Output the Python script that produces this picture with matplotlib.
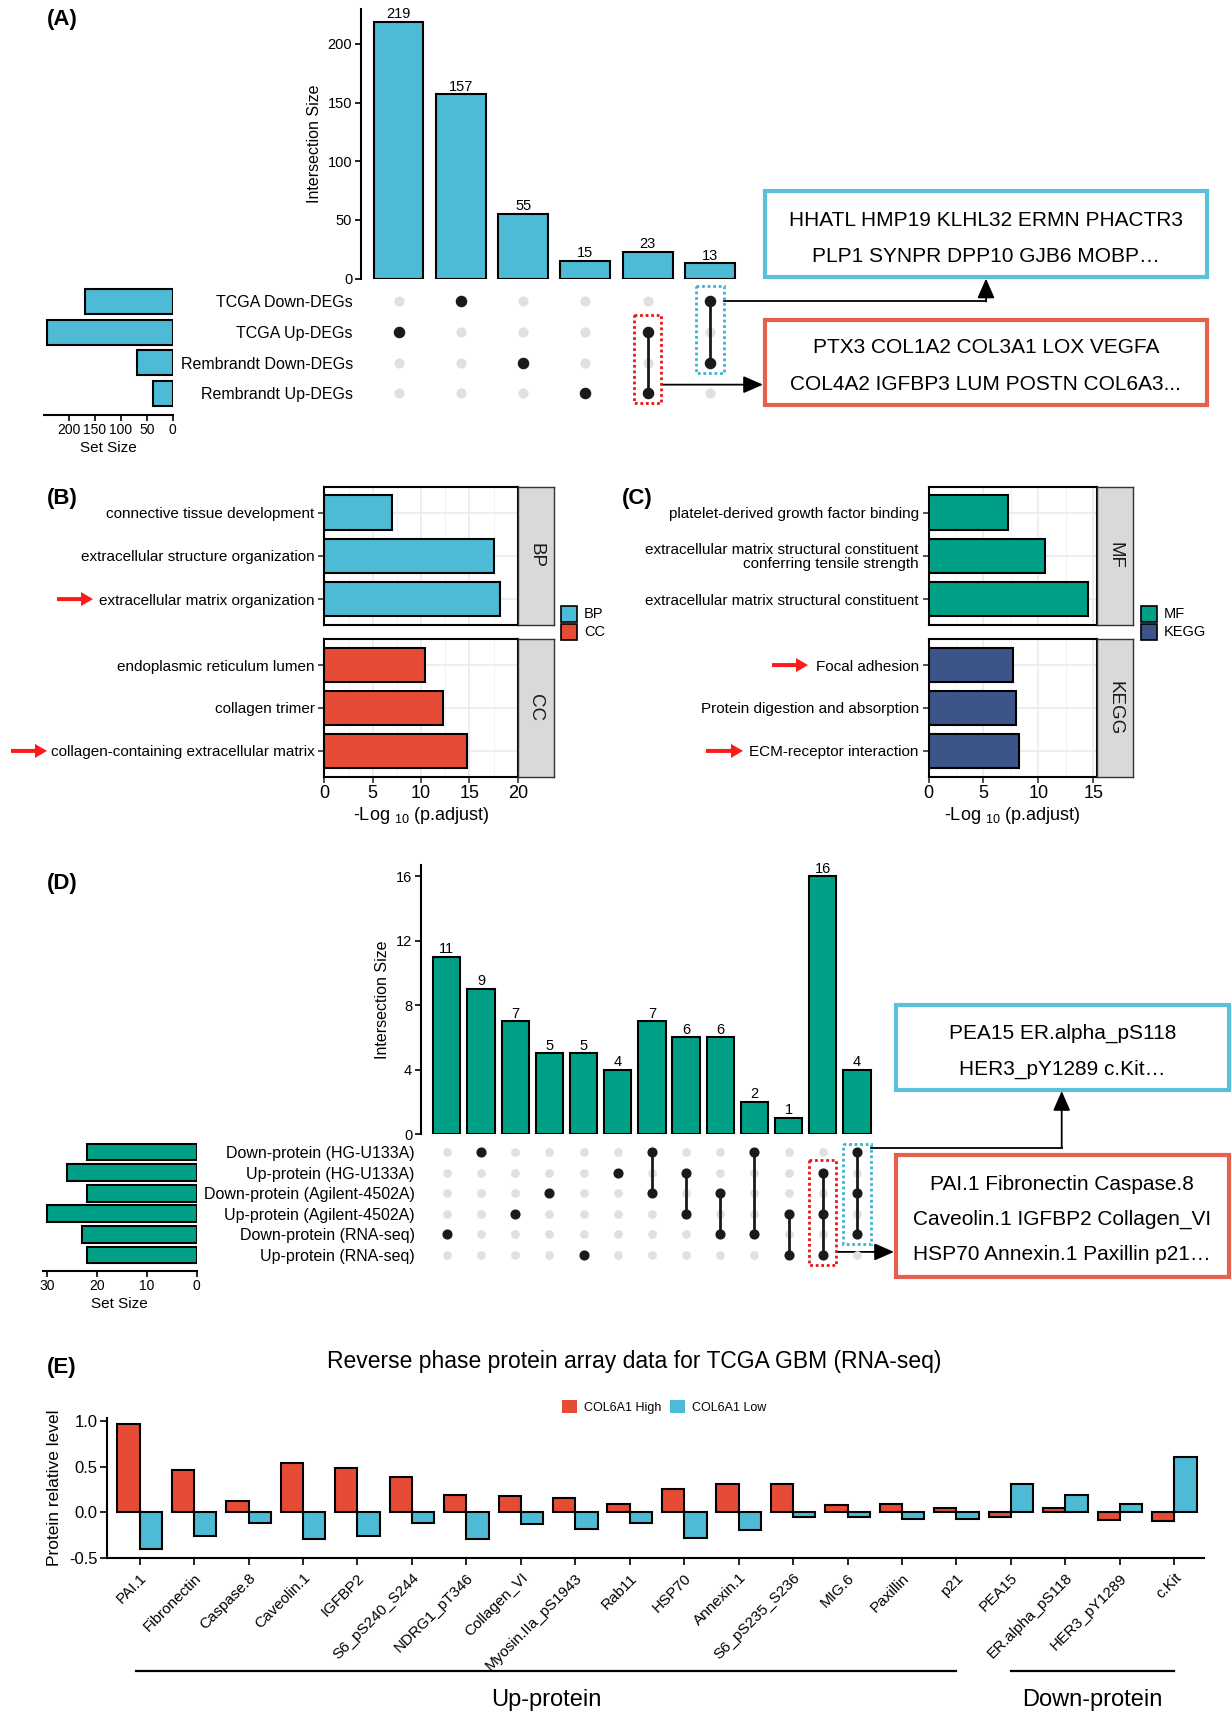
import numpy as np
import matplotlib
matplotlib.use('Agg')
import matplotlib.pyplot as plt
import matplotlib.transforms as mtransforms
from matplotlib.patches import Rectangle, FancyArrow

plt.rcParams['font.family'] = ['Liberation Sans', 'DejaVu Sans']
plt.rcParams['mathtext.fontset'] = 'custom'
plt.rcParams['mathtext.rm'] = 'Liberation Sans'
plt.rcParams['mathtext.it'] = 'Liberation Sans:italic'
plt.rcParams['mathtext.bf'] = 'Liberation Sans:bold'

# ---------------- data ----------------
# (A) DEG intersections
deg_sets = ['TCGA Down-DEGs', 'TCGA Up-DEGs', 'Rembrandt Down-DEGs', 'Rembrandt Up-DEGs']
deg_set_size = [170, 242, 68, 38]
deg_inter_size = [219, 157, 55, 15, 23, 13]
deg_inter_sets = [[1], [0], [2], [3], [1, 3], [0, 2]]
deg_genes_down = ['HHATL HMP19 KLHL32 ERMN PHACTR3', 'PLP1 SYNPR DPP10 GJB6 MOBP…']
deg_genes_up = ['PTX3 COL1A2 COL3A1 LOX VEGFA', 'COL4A2 IGFBP3 LUM POSTN COL6A3...']

# (B) GO BP / CC enrichment, -log10(p.adjust)
bp_terms = ['connective tissue development', 'extracellular structure organization',
            'extracellular matrix organization']
bp_score = [7.0, 17.5, 18.2]
cc_terms = ['endoplasmic reticulum lumen', 'collagen trimer',
            'collagen-containing extracellular matrix']
cc_score = [10.45, 12.3, 14.75]

# (C) GO MF / KEGG enrichment
mf_terms = ['platelet-derived growth factor binding',
            'extracellular matrix structural constituent\nconferring tensile strength',
            'extracellular matrix structural constituent']
mf_score = [7.2, 10.6, 14.55]
kegg_terms = ['Focal adhesion', 'Protein digestion and absorption', 'ECM-receptor interaction']
kegg_score = [7.7, 8.0, 8.2]

# (D) protein intersections
prot_sets = ['Down-protein (HG-U133A)', 'Up-protein (HG-U133A)', 'Down-protein (Agilent-4502A)',
             'Up-protein (Agilent-4502A)', 'Down-protein (RNA-seq)', 'Up-protein (RNA-seq)']
prot_set_size = [22, 26, 22, 30, 23, 22]
prot_inter_size = [11, 9, 7, 5, 5, 4, 7, 6, 6, 2, 1, 16, 4]
prot_inter_sets = [[4], [0], [3], [2], [5], [1], [0, 2], [1, 3], [2, 4], [0, 4], [3, 5],
                   [1, 3, 5], [0, 2, 4]]
prot_down = ['PEA15 ER.alpha_pS118', 'HER3_pY1289 c.Kit…']
prot_up = ['PAI.1 Fibronectin Caspase.8', 'Caveolin.1 IGFBP2 Collagen_VI',
           'HSP70 Annexin.1 Paxillin p21…']

# (E) RPPA relative levels
rppa_names = ['PAI.1', 'Fibronectin', 'Caspase.8', 'Caveolin.1', 'IGFBP2', 'S6_pS240_S244',
              'NDRG1_pT346', 'Collagen_VI', 'Myosin.IIa_pS1943', 'Rab11', 'HSP70', 'Annexin.1',
              'S6_pS235_S236', 'MIG.6', 'Paxillin', 'p21', 'PEA15', 'ER.alpha_pS118',
              'HER3_pY1289', 'c.Kit']
rppa_high = [0.96, 0.46, 0.13, 0.54, 0.48, 0.39, 0.19, 0.175, 0.16, 0.087, 0.26, 0.31,
             0.31, 0.08, 0.095, 0.044, -0.055, 0.044, -0.084, -0.095]
rppa_low = [-0.40, -0.255, -0.12, -0.29, -0.255, -0.116, -0.29, -0.13, -0.185, -0.12, -0.28,
            -0.19, -0.055, -0.047, -0.07, -0.073, 0.31, 0.185, 0.087, 0.60]
rppa_groups = ['Up-protein', 'Down-protein']
rppa_group_of = [0] * 16 + [1] * 4

# colours
c_blue, c_red, c_teal, c_navy = '#4DBBD5', '#E64B35', '#00A087', '#3C5488'
box_blue, box_red = '#5BC0DA', '#E5604D'

W, H = 1231, 1712
fig = plt.figure(figsize=(W / 100, H / 100), dpi=100)


def add_ax(l, t, r, b):
    return fig.add_axes([l / W, 1 - b / H, (r - l) / W, (b - t) / H])


# pixel overlay for panel labels, boxes and arrows
ov = add_ax(0, 0, W, H)
ov.set_xlim(0, W)
ov.set_ylim(H, 0)
ov.axis('off')


def to_ov(ax, x, y):
    return ov.transData.inverted().transform(ax.transData.transform((x, y)))


def upset(bar_box, mat_box, set_box, sets, set_size, inter_size, inter_sets, color,
          ytop, yticks, xpad, set_max, set_ticks, dot_ms, label_fs, label_pad):
    n, m = len(inter_size), len(sets)
    cols = np.arange(n)
    axb = add_ax(*bar_box)
    axb.bar(cols, inter_size, width=0.8, color=color, edgecolor='black', linewidth=1.5)
    for c, v in zip(cols, inter_size):
        axb.annotate(str(v), (c, v), xytext=(0, 0.5), textcoords='offset points',
                     ha='center', va='bottom', fontsize=10.5)
    axb.set_xlim(-xpad, n - 0.4)
    axb.set_ylim(0, ytop)
    axb.set_yticks(yticks)
    axb.set_xticks([])
    for s in ['top', 'right', 'bottom']:
        axb.spines[s].set_visible(False)
    axb.spines['left'].set_linewidth(1.5)
    axb.tick_params(axis='y', length=4, width=1.2, labelsize=10.5, pad=2)
    axb.set_ylabel('Intersection Size', fontsize=11.5, labelpad=4)

    axm = add_ax(*mat_box)
    axm.set_xlim(axb.get_xlim())
    axm.set_ylim(m - 0.5, -0.5)
    for c, rows in zip(cols, inter_sets):
        axm.plot([c] * m, np.arange(m), 'o', ms=dot_ms, color='#E0E0E0', mec='none')
        rows = sorted(rows)
        axm.plot([c] * len(rows), rows, '-o', ms=dot_ms, color='#1A1A1A', lw=2)
    axm.set_xticks([])
    axm.set_yticks(np.arange(m))
    axm.set_yticklabels(sets, fontsize=label_fs)
    axm.tick_params(axis='y', length=0, pad=label_pad)
    for s in axm.spines.values():
        s.set_visible(False)
    axm.patch.set_alpha(0)

    row_h = (mat_box[3] - mat_box[1]) / m
    axs = add_ax(*set_box)
    axs.barh(np.arange(m), set_size, height=0.82, color=color, edgecolor='black', linewidth=1.5)
    axs.set_xlim(set_max, 0)
    axs.set_ylim(-0.5 + (set_box[3] - set_box[1]) / row_h, -0.5)
    axs.set_yticks([])
    axs.set_xticks(set_ticks)
    for s in ['top', 'right', 'left']:
        axs.spines[s].set_visible(False)
    axs.spines['bottom'].set_linewidth(1.5)
    axs.tick_params(axis='x', length=4, width=1.2, labelsize=10, pad=2)
    axs.set_xlabel('Set Size', fontsize=11, labelpad=3)
    axs.patch.set_alpha(0)
    return axb, axm


def facet(box, strip_w, terms, values, color, xmax, xticks, strip, show_x):
    ax = add_ax(*box)
    y = np.arange(len(terms))
    ax.barh(y, values, height=0.8, color=color, edgecolor='black', linewidth=1.5, zorder=3)
    ax.set_ylim(len(terms) - 0.4, -0.6)
    ax.set_xlim(0, xmax)
    ax.set_yticks(y)
    ax.set_yticklabels(terms, fontsize=11, linespacing=1.0)
    ax.set_xticks(xticks)
    ax.set_xticks(np.arange(2.5, xmax, 5), minor=True)
    ax.grid(which='major', color='#EBEBEB', lw=1.2)
    ax.grid(which='minor', axis='x', color='#F3F3F3', lw=0.7)
    ax.set_axisbelow(True)
    ax.tick_params(which='minor', length=0)
    ax.tick_params(axis='y', length=4, width=1.2, color='#333333', pad=3)
    if show_x:
        ax.tick_params(axis='x', length=4, width=1.2, color='#333333', labelsize=13, pad=2)
        ax.set_xlabel(r'-Log $_{10}$ (p.adjust)', fontsize=13, labelpad=2)
    else:
        ax.tick_params(axis='x', length=0, labelbottom=False)
    for s in ax.spines.values():
        s.set_linewidth(1.5)
    sx = add_ax(box[2], box[1], box[2] + strip_w, box[3])
    sx.set_facecolor('#D9D9D9')
    sx.set_xticks([])
    sx.set_yticks([])
    for s in sx.spines.values():
        s.set_color('#333333')
        s.set_linewidth(1)
    sx.text(0.5, 0.5, strip, rotation=-90, ha='center', va='center', fontsize=13.5,
            color='#1A1A1A', transform=sx.transAxes)
    return ax


def gene_box(l, t, r, b, edge, lines, line_y):
    ov.add_patch(Rectangle((l, t), r - l, b - t, fill=False, ec=edge, lw=3))
    for txt, yy in zip(lines, line_y):
        ov.text((l + r) / 2, yy, txt, ha='center', va='center', fontsize=15)


def dotted(axm, col, r0, r1, half_w, edge):
    axm.add_patch(Rectangle((col - half_w, r0), 2 * half_w, r1 - r0, fill=False, ec=edge,
                            lw=2, ls=(0, (1, 1)), clip_on=False))


def head(start, end):
    ov.annotate('', xy=end, xytext=start,
                arrowprops=dict(arrowstyle='-|>,head_length=0.8,head_width=0.35',
                                color='black', lw=1.3, shrinkA=0, shrinkB=0, mutation_scale=15))


def red_arrow(x0, x1, y):
    ov.add_patch(FancyArrow(x0, y, x1 - x0, 0, width=4, head_width=14, head_length=12,
                            length_includes_head=True, color='#FF1A1A', lw=0))


# ---------------- (A) ----------------
axbA, axmA = upset((360.5, 8.7, 747.4, 278.5), (360.5, 286.2, 747.4, 408.5),
                   (43.7, 286.2, 172.6, 415), deg_sets, deg_set_size, deg_inter_size,
                   deg_inter_sets, c_blue, 230, [0, 50, 100, 150, 200], 0.61, 249,
                   [0, 50, 100, 150, 200], 7.3, 11.5, 5.5)
dotted(axmA, 5, -0.5, 2.33, 0.22, '#3BB3D3')
dotted(axmA, 4, 0.45, 3.33, 0.22, '#E8141C')
gene_box(764.6, 191.2, 1207, 277, box_blue, deg_genes_down, [220, 256.7])
gene_box(764.6, 320, 1207, 404.5, box_red, deg_genes_up, [347.8, 384])
xa, ya = to_ov(axmA, 5.22, 0)
ov.plot([xa, 986], [ya, ya], color='black', lw=1.3)
head((986, ya), (986, 278.5))
xa, ya = to_ov(axmA, 4.22, 2.72)
head((xa, ya), (763, ya))

# ---------------- (B) ----------------
axBP = facet((324.4, 486.7, 517.7, 625), 36, bp_terms, bp_score, c_blue, 20,
             [0, 5, 10, 15, 20], 'BP', False)
axCC = facet((324.4, 639.3, 517.7, 776.7), 36, cc_terms, cc_score, c_red, 20,
             [0, 5, 10, 15, 20], 'CC', True)
red_arrow(57, 93, to_ov(axBP, 0, 2)[1])
red_arrow(11, 47, to_ov(axCC, 0, 2)[1])

# ---------------- (C) ----------------
axMF = facet((928.5, 486.7, 1096.5, 625), 36, mf_terms, mf_score, c_teal, 15.3,
             [0, 5, 10, 15], 'MF', False)
axKG = facet((928.5, 639.3, 1096.5, 776.7), 36, kegg_terms, kegg_score, c_navy, 15.3,
             [0, 5, 10, 15], 'KEGG', True)
red_arrow(772, 808, to_ov(axKG, 0, 0)[1])
red_arrow(706, 743, to_ov(axKG, 0, 2)[1])

# facet legends
for lx, items in [(561, [('BP', c_blue), ('CC', c_red)]),
                  (1141, [('MF', c_teal), ('KEGG', c_navy)])]:
    for k, (lab, col) in enumerate(items):
        ty = 606 + 18 * k
        ov.add_patch(Rectangle((lx, ty), 16, 16, fc=col, ec='black', lw=1.2))
        ov.text(lx + 23, ty + 8, lab, ha='left', va='center', fontsize=10.5)

# ---------------- (D) ----------------
axbD, axmD = upset((420.5, 865, 877.5, 1134), (420.5, 1141.7, 877.5, 1265.3),
                   (42.7, 1141.7, 196.5, 1270.7), prot_sets, prot_set_size, prot_inter_size,
                   prot_inter_sets, c_teal, 16.7, [0, 4, 8, 12, 16], 0.77, 30.8,
                   [0, 10, 20, 30], 6.3, 11.5, 4.3)
dotted(axmD, 12, -0.4, 4.45, 0.4, '#3BB3D3')
dotted(axmD, 11, 0.4, 5.5, 0.4, '#E8141C')
gene_box(895.7, 1005, 1228.9, 1089.5, box_blue, prot_down, [1033.7, 1069])
gene_box(895.7, 1155, 1228.9, 1276.7, box_red, prot_up, [1184.3, 1219, 1254])
xa, ya = to_ov(axmD, 12.4, -0.2)
ov.plot([xa, 1061.7], [ya, ya], color='black', lw=1.3)
head((1061.7, ya), (1061.7, 1091))
xa, ya = to_ov(axmD, 11.4, 4.85)
head((xa, ya), (894, ya))

# ---------------- (E) ----------------
axE = add_ax(107, 1418, 1203.7, 1558.3)
xe = np.arange(len(rppa_names))
axE.bar(xe - 0.205, rppa_high, width=0.41, color=c_red, edgecolor='black', linewidth=1.5,
        label='COL6A1 High')
axE.bar(xe + 0.205, rppa_low, width=0.41, color=c_blue, edgecolor='black', linewidth=1.5,
        label='COL6A1 Low')
axE.set_xlim(-0.6, len(rppa_names) - 0.46)
axE.set_ylim(-0.5, 1.03)
axE.set_yticks([-0.5, 0, 0.5, 1.0])
axE.set_yticklabels(['-0.5', '0.0', '0.5', '1.0'])
axE.set_xticks(xe)
axE.set_xticklabels(rppa_names, rotation=45, ha='right', va='top', rotation_mode='anchor',
                    fontsize=11)
for s in ['top', 'right']:
    axE.spines[s].set_visible(False)
for s in ['left', 'bottom']:
    axE.spines[s].set_linewidth(1.5)
axE.tick_params(axis='both', length=5, width=1.2)
axE.tick_params(axis='x', pad=4)
axE.tick_params(axis='y', labelsize=12, pad=2)
axE.set_ylabel('Protein relative level', fontsize=12.5, labelpad=5)
axE.legend(loc='center', bbox_to_anchor=(664 / W, 1 - 1407 / H), bbox_transform=fig.transFigure,
           ncol=2, frameon=False, fontsize=9, handlelength=1.2, handleheight=1.2,
           handletextpad=0.55, columnspacing=0.65)
for p in axE.get_legend().get_patches():
    p.set_edgecolor('none')
fig.text(634 / W, 1 - 1361.7 / H, 'Reverse phase protein array data for TCGA GBM (RNA-seq)',
         ha='center', va='center', fontsize=16.5)

# group brackets under the category labels
grp_tf = mtransforms.blended_transform_factory(axE.transData, ov.transData)
for g, name in enumerate(rppa_groups):
    idx = [i for i, gg in enumerate(rppa_group_of) if gg == g]
    x0, x1 = idx[0] - (0.06 if g == 0 else 0), idx[-1]
    axE.plot([x0, x1], [1671, 1671], color='black', lw=1.6, transform=grp_tf, clip_on=False)
    axE.text((x0 + x1) / 2, 1700, name, ha='center', va='center', fontsize=17,
             transform=grp_tf)

# panel tags
for tag, px, py in [('(A)', 47, 19), ('(B)', 47, 498), ('(C)', 622, 498),
                    ('(D)', 47, 883), ('(E)', 47, 1367)]:
    ov.text(px, py, tag, ha='left', va='center', fontsize=16, fontweight='bold')

fig.savefig('out.png', dpi=100)
